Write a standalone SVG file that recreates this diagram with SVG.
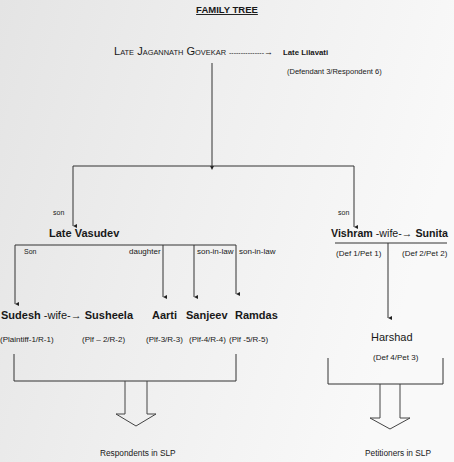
<svg xmlns="http://www.w3.org/2000/svg" width="454" height="462" viewBox="0 0 454 462">
<defs>
<linearGradient id="bg" x1="0" y1="0" x2="1" y2="0.3">
<stop offset="0" stop-color="#e4e4e4"/>
<stop offset="0.5" stop-color="#efefef"/>
<stop offset="1" stop-color="#f9f9f9"/>
</linearGradient>
<marker id="ah" viewBox="0 0 6 6" refX="3" refY="6" markerWidth="4" markerHeight="5" orient="auto-start-reverse" markerUnits="userSpaceOnUse">
<path d="M0,0 L6,0 L3,6 Z" fill="#222"/>
</marker>
<style>
text{font-family:"Liberation Sans",Arial,sans-serif;fill:#181818}
.b{font-weight:bold;font-size:11px}
.s{font-size:8px}
.lbl{font-size:8px}
.ln{stroke:#333;stroke-width:1;fill:none}
.arr{stroke:#333;stroke-width:1;fill:none;marker-end:url(#ah)}
.blk{stroke:#444;stroke-width:1;fill:none}
</style>
</defs>
<rect width="454" height="462" fill="url(#bg)"/>

<g id="title">
<text x="227" y="13" text-anchor="middle" style="font-weight:bold;font-size:9.5px" text-decoration="underline">FAMILY TREE</text>
</g>

<g id="connectors">
<line class="ln" x1="212" y1="63" x2="212" y2="166"/>
<path d="M210,166 L214,166 L212,170 Z" fill="#222"/>
<line class="ln" x1="73" y1="166" x2="354" y2="166"/>
<line class="arr" x1="73" y1="166" x2="73" y2="226"/>
<line class="arr" x1="354" y1="166" x2="354" y2="227"/>
<line class="ln" x1="15" y1="245" x2="236" y2="245"/>
<line class="arr" x1="15" y1="245" x2="15" y2="304"/>
<line class="arr" x1="163" y1="245" x2="163" y2="297"/>
<line class="arr" x1="194" y1="245" x2="194" y2="297"/>
<line class="arr" x1="236" y1="245" x2="236" y2="294"/>
<line class="ln" x1="335" y1="243" x2="447" y2="243"/>
<line class="arr" x1="388" y1="243" x2="388" y2="318"/>
<path class="ln" d="M14,354 V381 H236 V354"/>
<path class="ln" d="M328,358 V384 H443 V358"/>
<path class="blk" d="M125,381 V414 H116 L136,426 L156,414 H147 V381"/>
<path class="blk" d="M380,384 V418 H370 L390,429 L410,418 H400 V384"/>
</g>

<g id="jagannath">
<text x="114" y="55" textLength="112" lengthAdjust="spacingAndGlyphs" style="font-size:10.5px;font-variant:small-caps">Late Jagannath Govekar</text>
<text x="229" y="55" style="font-size:7px">---------------<tspan style="font-size:9px;font-weight:bold">→</tspan></text>
</g>
<g id="lilavati">
<text x="283" y="55" style="font-weight:bold;font-size:7.8px">Late Lilavati</text>
<text x="287" y="74" class="s" style="font-size:7.5px">(Defendant 3/Respondent 6)</text>
</g>

<g id="son-labels">
<text x="53" y="215" style="font-size:7px">son</text>
<text x="338" y="215" style="font-size:7px">son</text>
</g>

<g id="vasudev">
<text x="49" y="237" class="b">Late Vasudev</text>
</g>

<g id="vishram-sunita">
<text x="331" y="237" class="b" textLength="117" lengthAdjust="spacingAndGlyphs">Vishram <tspan style="font-weight:normal">-wife-→</tspan> Sunita</text>
<text x="336" y="256" class="s">(Def 1/Pet 1)</text>
<text x="402" y="256" class="s">(Def 2/Pet 2)</text>
</g>

<g id="relation-labels">
<text x="24" y="254" style="font-size:7px">Son</text>
<text x="129" y="254" class="lbl">daughter</text>
<text x="197" y="254" class="lbl">son-in-law</text>
<text x="239" y="254" class="lbl">son-in-law</text>
</g>

<g id="sudesh-susheela">
<text x="1" y="319" class="b">Sudesh <tspan style="font-weight:normal">-wife-→</tspan> Susheela</text>
<text x="0" y="342" class="s">(Plaintiff-1/R-1)</text>
<text x="82" y="342" class="s">(Plf – 2/R-2)</text>
</g>

<g id="aarti">
<text x="152" y="319" class="b">Aarti</text>
<text x="146" y="342" class="s">(Plf-3/R-3)</text>
</g>

<g id="sanjeev">
<text x="186" y="319" class="b">Sanjeev</text>
<text x="189" y="342" class="s">(Plf-4/R-4)</text>
</g>

<g id="ramdas">
<text x="235" y="319" class="b">Ramdas</text>
<text x="229" y="342" class="s">(Plf -5/R-5)</text>
</g>

<g id="harshad">
<text x="371" y="341" style="font-size:11px">Harshad</text>
<text x="373" y="360" class="s">(Def 4/Pet 3)</text>
</g>

<g id="respondents">
<text x="100" y="456" style="font-size:8.3px">Respondents in SLP</text>
</g>
<g id="petitioners">
<text x="365" y="456" style="font-size:8.3px">Petitioners in SLP</text>
</g>
</svg>
